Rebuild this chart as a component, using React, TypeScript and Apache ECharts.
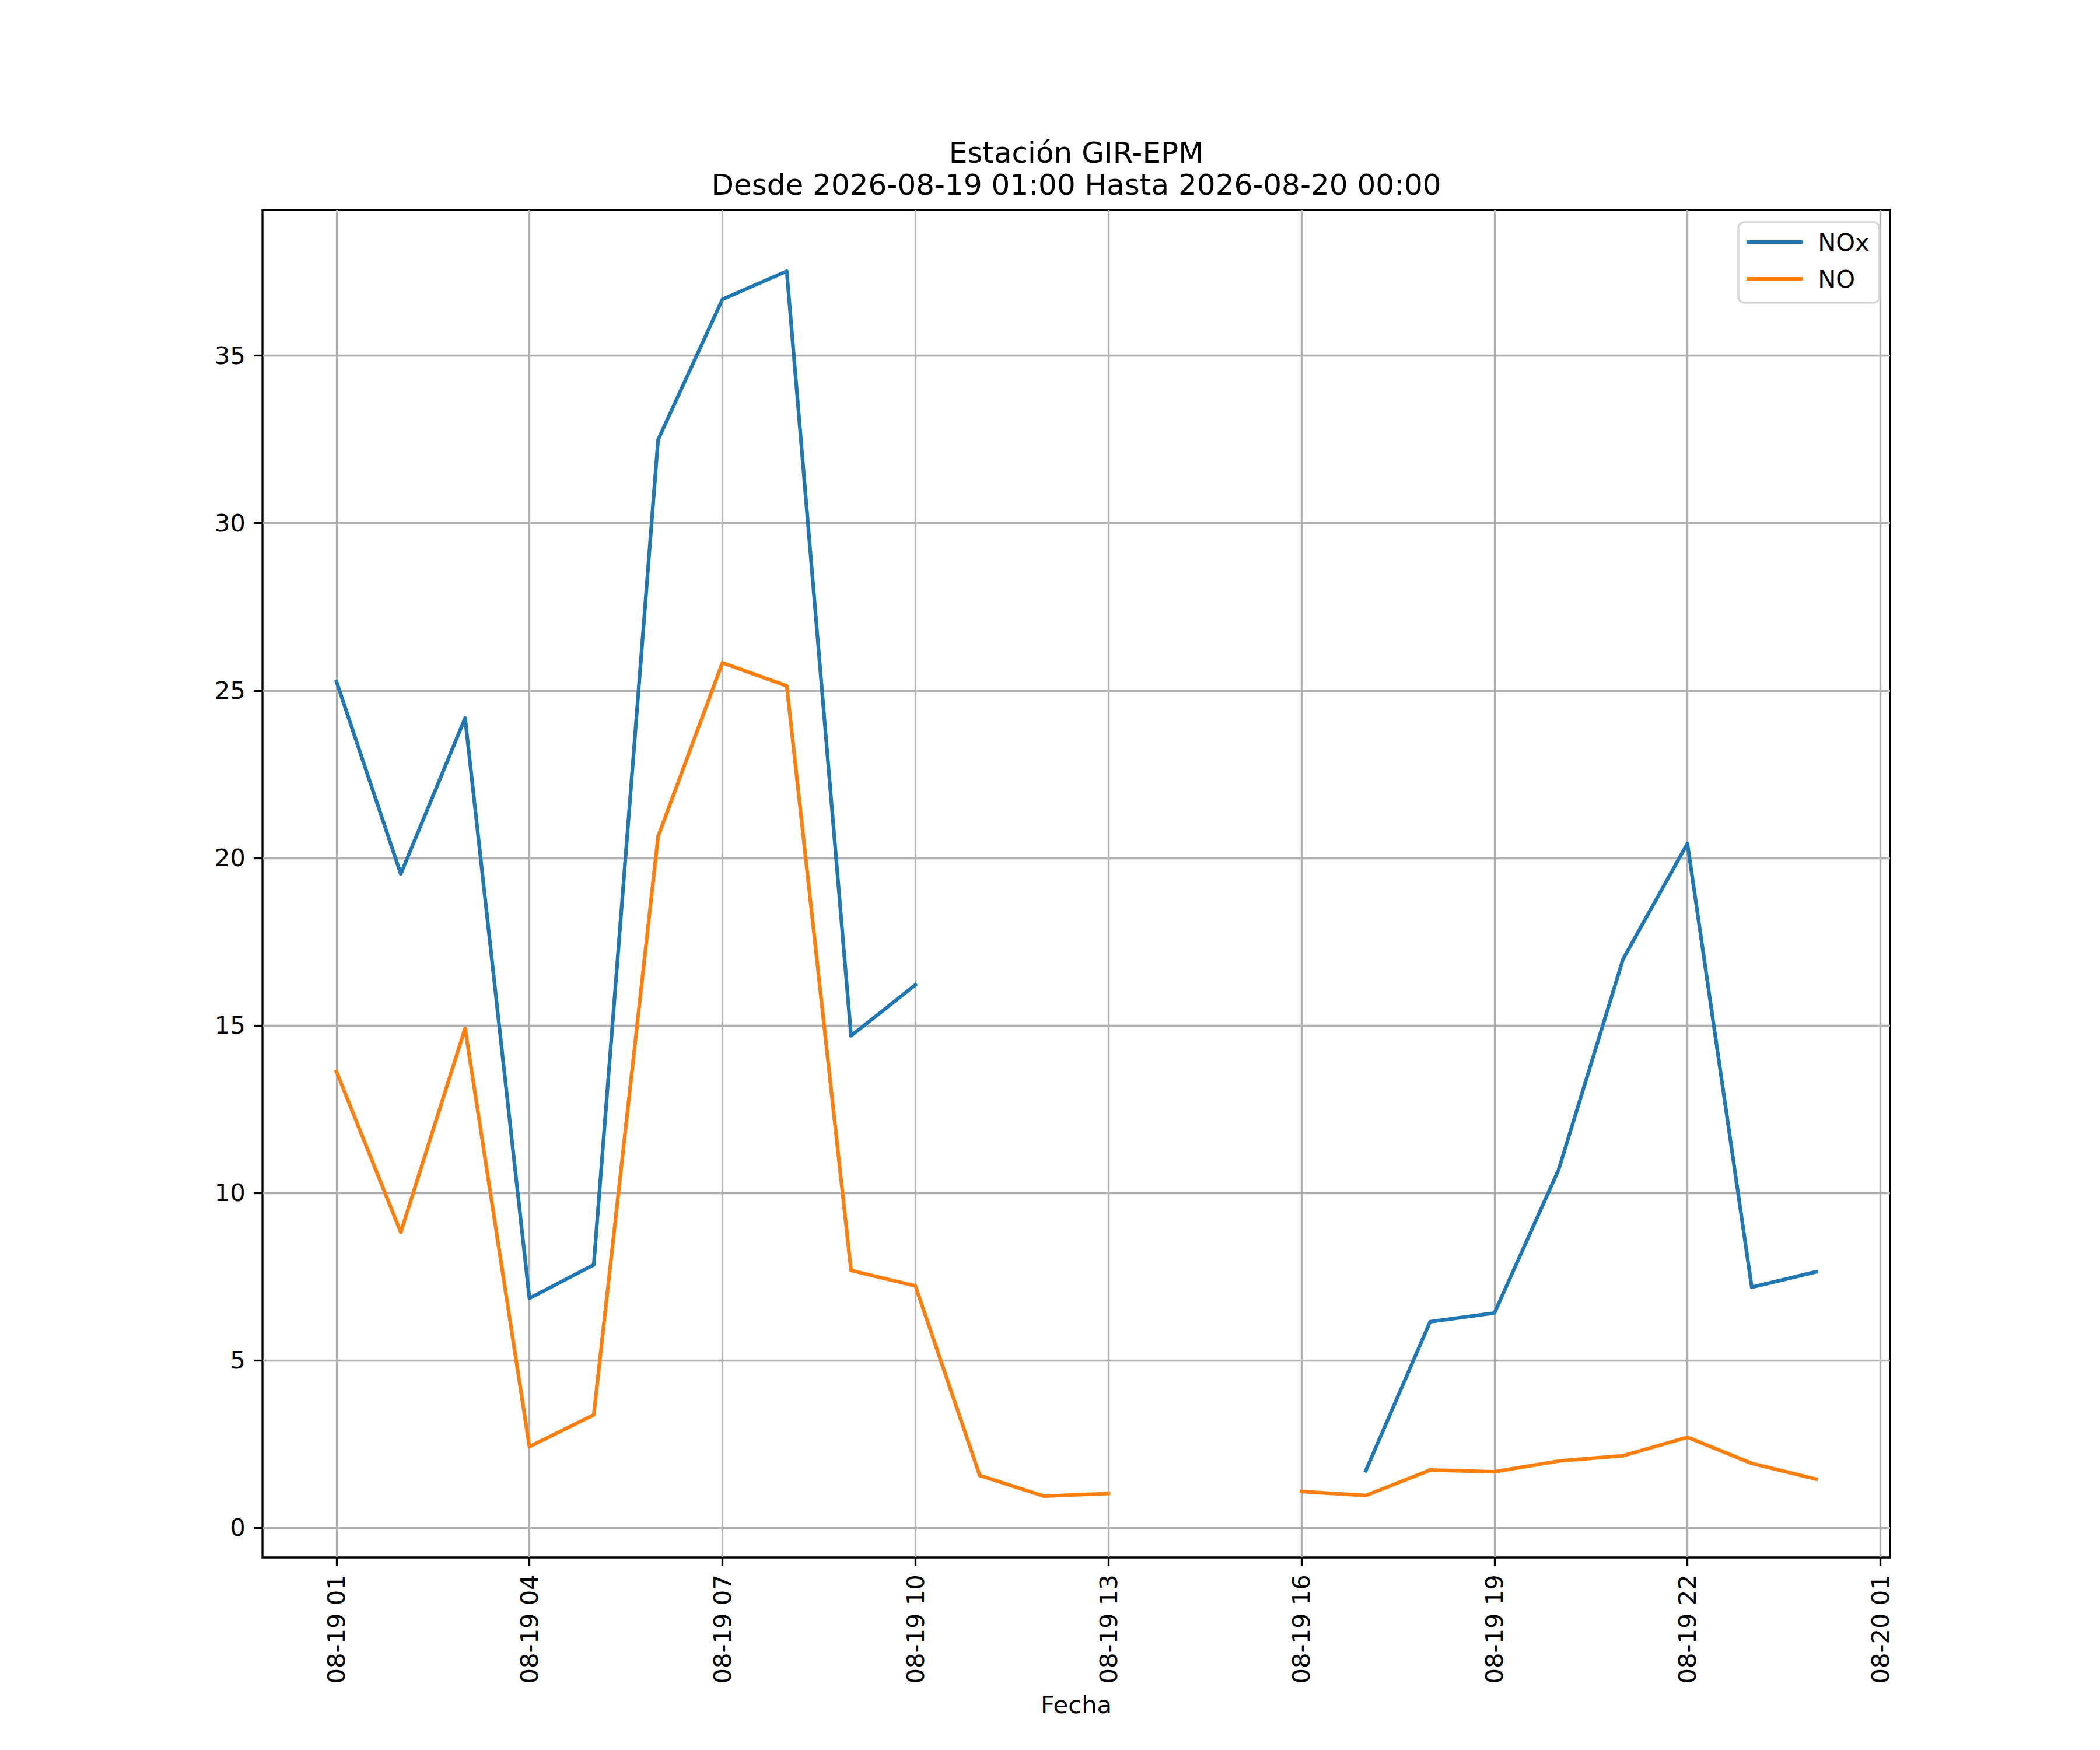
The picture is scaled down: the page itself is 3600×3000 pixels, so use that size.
import React, { useEffect, useRef } from 'react';
import * as echarts from 'echarts';

// ---- data ----
const times = [
  '2026-08-19 01:00', '2026-08-19 02:00', '2026-08-19 03:00', '2026-08-19 04:00',
  '2026-08-19 05:00', '2026-08-19 06:00', '2026-08-19 07:00', '2026-08-19 08:00',
  '2026-08-19 09:00', '2026-08-19 10:00', '2026-08-19 11:00', '2026-08-19 12:00',
  '2026-08-19 13:00', '2026-08-19 14:00', '2026-08-19 15:00', '2026-08-19 16:00',
  '2026-08-19 17:00', '2026-08-19 18:00', '2026-08-19 19:00', '2026-08-19 20:00',
  '2026-08-19 21:00', '2026-08-19 22:00', '2026-08-19 23:00', '2026-08-20 00:00',
];
const noxValues: (number | null)[] = [
  25.27, 19.52, 24.18, 6.85, 7.85, 32.49, 36.68, 37.52, 14.69, 16.21,
  null, null, null, null, null, null,
  1.70, 6.15, 6.41, 10.70, 16.98, 20.43, 7.18, 7.64,
];
const noValues: (number | null)[] = [
  13.62, 8.82, 14.91, 2.42, 3.37, 20.64, 25.83, 25.14, 7.68, 7.22,
  1.56, 0.94, 1.02, null, null, 1.08,
  0.96, 1.72, 1.67, 1.99, 2.15, 2.70, 1.92, 1.45,
];
const seriesNames = ['NOx', 'NO'];
const seriesColors = ['#1f77b4', '#ff7f0e'];
const xTickHours = [1, 4, 7, 10, 13, 16, 19, 22, 25];
const xTickLabels = [
  '08-19 01', '08-19 04', '08-19 07', '08-19 10', '08-19 13',
  '08-19 16', '08-19 19', '08-19 22', '08-20 01',
];
const yTicks = [0, 5, 10, 15, 20, 25, 30, 35];
const titleLines = ['Estación GIR-EPM', 'Desde 2026-08-19 01:00 Hasta 2026-08-20 00:00'];
const xAxisName = 'Fecha';

const BASE = Date.UTC(2026, 7, 19, 0, 0);
function toHours(s: string): number {
  const [d, t] = s.split(' ');
  const [Y, M, D] = d.split('-').map(Number);
  const [h, m] = t.split(':').map(Number);
  return (Date.UTC(Y, M - 1, D, h, m) - BASE) / 3600000;
}

const PT = 300 / 72;
const FONT = 'DejaVu Sans';

export default function App() {
  const ref = useRef<HTMLDivElement>(null);

  useEffect(() => {
    document.body.style.margin = '0';
    if (!ref.current) return;
    const chart = echarts.init(ref.current, undefined, { renderer: 'svg' });

    const hours = times.map(toHours);
    const hMin = Math.min(...hours);
    const hMax = Math.max(...hours);
    const xMargin = (hMax - hMin) * 0.05;
    const allVals = [...noxValues, ...noValues].filter((v): v is number => v != null);
    const vMin = Math.min(...allVals);
    const vMax = Math.max(...allVals);
    const yMargin = (vMax - vMin) * 0.05;

    const toData = (vals: (number | null)[]) =>
      hours.map((h, i) => [h, vals[i] == null ? '-' : vals[i]]);

    const lineW = 1.5 * PT;
    const axW = 0.8 * PT;
    const tickLen = 3.5 * PT;
    const fs = 10 * PT;

    const option: any = {
      animation: false,
      backgroundColor: '#ffffff',
      textStyle: { fontFamily: FONT },
      grid: {
        left: 450,
        top: 360,
        width: 2790,
        height: 2310,
        show: true,
        borderColor: '#000000',
        borderWidth: axW,
        backgroundColor: 'transparent',
        containLabel: false,
        outerBoundsMode: 'none',
      },
      xAxis: {
        type: 'value',
        min: hMin - xMargin,
        max: hMax + xMargin,
        name: xAxisName,
        nameLocation: 'middle',
        nameGap: 231,
        nameTextStyle: { fontSize: fs, color: '#000', lineHeight: 42, fontFamily: FONT },
        axisLine: { show: false, onZero: false },
        axisTick: {
          show: true,
          length: tickLen,
          lineStyle: { color: '#000', width: axW },
          customValues: xTickHours,
        },
        axisLabel: {
          show: true,
          customValues: xTickHours,
          rotate: 90,
          margin: tickLen * 2,
          fontSize: fs,
          color: '#000',
          fontFamily: FONT,
          formatter: (v: number) => {
            const i = xTickHours.findIndex((t) => Math.abs(t - v) < 1e-6);
            return i >= 0 ? xTickLabels[i] : '';
          },
        },
        splitLine: { show: true, lineStyle: { color: '#b0b0b0', width: axW } },
      },
      yAxis: {
        type: 'value',
        min: vMin - yMargin,
        max: vMax + yMargin,
        axisLine: { show: false, onZero: false },
        axisTick: {
          show: true,
          length: tickLen,
          lineStyle: { color: '#000', width: axW },
          customValues: yTicks,
        },
        axisLabel: {
          show: true,
          customValues: yTicks,
          margin: tickLen * 2,
          fontSize: fs,
          color: '#000',
          fontFamily: FONT,
          formatter: (v: number) => String(Math.round(v)),
        },
        splitLine: { show: true, lineStyle: { color: '#b0b0b0', width: axW } },
      },
      legend: {
        show: true,
        orient: 'vertical',
        left: 2980,
        top: 381,
        padding: [13, 17, 20, 14],
        itemGap: 21,
        itemWidth: 90,
        itemHeight: 42,
        backgroundColor: '#ffffff',
        borderColor: '#d6d6d6',
        borderWidth: axW,
        borderRadius: 10,
        selectedMode: false,
        textStyle: {
          fontSize: fs,
          color: '#000',
          lineHeight: 42,
          fontFamily: FONT,
          padding: [0, 0, 0, 24],
        },
        itemStyle: { opacity: 0, borderWidth: 0 },
        lineStyle: { width: lineW, cap: 'square' },
        data: seriesNames,
      },
      graphic: [
        {
          type: 'text',
          x: 1845,
          y: 234,
          style: {
            text: titleLines.join('\n'),
            align: 'center',
            textAlign: 'center',
            verticalAlign: 'top',
            textVerticalAlign: 'top',
            fontSize: 50,
            lineHeight: 55,
            fontFamily: FONT,
            fill: '#000',
          },
        },
      ],
      series: [noxValues, noValues].map((vals, k) => ({
        name: seriesNames[k],
        type: 'line',
        data: toData(vals),
        symbol: 'none',
        showSymbol: false,
        connectNulls: false,
        z: 3,
        itemStyle: { color: seriesColors[k] },
        lineStyle: { color: seriesColors[k], width: lineW, cap: 'square', join: 'round' },
      })),
    };

    chart.setOption(option);
    return () => chart.dispose();
  }, []);

  return <div ref={ref} style={{ width: 3600, height: 3000 }} />;
}
